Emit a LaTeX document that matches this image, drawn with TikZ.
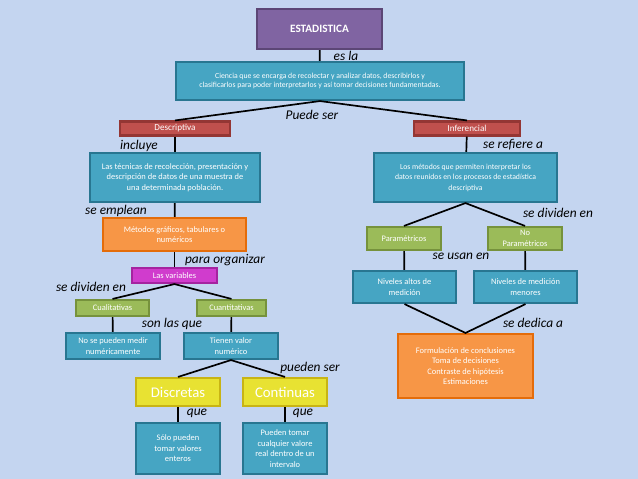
\documentclass[tikz,border=0pt]{standalone}
\usepackage{fontspec}
\setmainfont{Carlito}
\definecolor{fondo}{RGB}{196,213,240}
\definecolor{morado}{RGB}{128,100,162}
\definecolor{moradoosc}{RGB}{92,70,118}
\definecolor{azul}{RGB}{70,165,195}
\definecolor{azulosc}{RGB}{40,118,145}
\definecolor{rojo}{RGB}{192,80,77}
\definecolor{rojoosc}{RGB}{148,54,52}
\definecolor{naranja}{RGB}{247,150,70}
\definecolor{naranjaosc}{RGB}{228,108,10}
\definecolor{rosa}{RGB}{208,60,205}
\definecolor{rosaosc}{RGB}{165,35,160}
\definecolor{verde}{RGB}{155,187,89}
\definecolor{verdeosc}{RGB}{118,146,60}
\definecolor{amarillo}{RGB}{232,226,50}
\definecolor{amarilloosc}{RGB}{200,180,20}
\tikzset{
  caja/.style={draw, line width=1.5pt, text=white, align=center, inner sep=1pt,
    font=\fontsize{6}{7.5}\selectfont},
  cajaazul/.style={caja, fill=azul, draw=azulosc},
  cajaroja/.style={caja, fill=rojo, draw=rojoosc, font=\fontsize{6.5}{7.5}\selectfont},
  cajaverde/.style={caja, fill=verde, draw=verdeosc},
  cajanaranja/.style={caja, fill=naranja, draw=naranjaosc},
  cajaamarilla/.style={caja, fill=amarillo, draw=amarilloosc, font=\fontsize{10.5}{12}\selectfont},
  etiqueta/.style={font=\fontsize{9.5}{11}\selectfont\itshape, inner sep=0pt},
  linea/.style={line width=1.2pt}
}
\begin{document}
\begin{tikzpicture}[x=0.025cm, y=-0.025cm]
	\fill[fondo] (0,0) rectangle (638,479);
	% cajas
	\node[caja, fill=morado, draw=moradoosc, minimum width=3.125cm, minimum height=1cm,
		font=\fontsize{8}{9}\selectfont\bfseries] (est) at (319.5,29) {ESTADISTICA};
	\node[cajaazul, minimum width=7.2cm, minimum height=0.95cm, font=\fontsize{5.5}{7}\selectfont]
		(cien) at (320,81) {Ciencia que se encarga de recolectar y analizar datos, describirlos y\\
		clasificarlos para poder interpretarlos y así tomar decisiones fundamentadas.};
	\node[cajaroja, minimum width=2.75cm, minimum height=0.35cm] (desc) at (175,128.5) {Descriptiva};
	\node[cajaroja, minimum width=2.65cm, minimum height=0.35cm] (infe) at (467,128.5) {Inferencial};
	\node[cajaazul, minimum width=4.25cm, minimum height=1.225cm] (tecn) at (175,177.5)
		{Las técnicas de recolección, presentación y\\ descripción de datos de una muestra de\\
		una determinada población.};
	\node[cajaazul, minimum width=4.575cm, minimum height=1.225cm, font=\fontsize{5.5}{7.5}\selectfont]
		(meto) at (465.5,177.5) {Los métodos que permiten interpretar los\\
		datos reunidos en los procesos de estadística\\ descriptiva};
	\node[cajanaranja, minimum width=3.575cm, minimum height=0.825cm] (graf) at (174.5,234.5)
		{Métodos gráficos, tabulares o\\ numéricos};
	\node[caja, fill=rosa, draw=rosaosc, minimum width=2.125cm, minimum height=0.375cm]
		(vari) at (174.5,275.5) {Las variables};
	\node[cajaverde, minimum width=1.825cm, minimum height=0.4cm] (cual) at (112.5,308) {Cualitativas};
	\node[cajaverde, minimum width=1.725cm, minimum height=0.4cm] (cuan) at (231.5,308) {Cuantitativas};
	\node[cajaazul, minimum width=2.35cm, minimum height=0.65cm] (nose) at (113,346)
		{No se pueden medir\\ numéricamente};
	\node[cajaazul, minimum width=2.35cm, minimum height=0.65cm] (tien) at (231,346)
		{Tienen valor\\ numérico};
	\node[cajaamarilla, minimum width=2.1cm, minimum height=0.7cm] (disc) at (178,392) {Discretas};
	\node[cajaamarilla, minimum width=2.1cm, minimum height=0.7cm] (cont) at (285,392) {Continuas};
	\node[cajaazul, minimum width=2.1cm, minimum height=1.275cm] (solo) at (178,448.5)
		{Sólo pueden\\ tomar valores\\ enteros};
	\node[cajaazul, minimum width=2.1cm, minimum height=1.275cm] (pued) at (285,448.5)
		{Pueden tomar\\ cualquier valore\\ real dentro de un\\ intervalo};
	\node[cajaverde, minimum width=1.85cm, minimum height=0.575cm] (para) at (404,238.5) {Paramétricos};
	\node[cajaverde, minimum width=1.85cm, minimum height=0.575cm] (nopa) at (525,238.5)
		{No\\ Paramétricos};
	\node[cajaazul, minimum width=2.575cm, minimum height=0.8cm] (alto) at (404.5,287)
		{Niveles altos de\\ medición};
	\node[cajaazul, minimum width=2.575cm, minimum height=0.8cm] (meno) at (525.5,287)
		{Niveles de medición\\ menores};
	\node[cajanaranja, minimum width=3.375cm, minimum height=1.6cm] (form) at (465.5,366)
		{Formulación de conclusiones\\ Toma de decisiones\\ Contraste de hipótesis\\ Estimaciones};
	% conectores
	\draw[linea] (est) -- (cien);
	\draw[linea] (desc.north) -- (cien.south) -- (infe.north);
	\draw[linea] (desc) -- (tecn);
	\draw[linea] (infe) -- (meto);
	\draw[linea] (tecn) -- (graf);
	\draw[linea] (graf) -- (vari);
	\draw[linea] (cual.north) -- (vari.south) -- (cuan.north);
	\draw[linea] (cual) -- (nose);
	\draw[linea] (cuan) -- (tien);
	\draw[linea] (disc.north) -- (tien.south) -- (cont.north);
	\draw[linea] (disc) -- (solo);
	\draw[linea] (cont) -- (pued);
	\draw[linea] (para.north) -- (meto.south) -- (nopa.north);
	\draw[linea] (para) -- (alto);
	\draw[linea] (nopa) -- (meno);
	\draw[linea] (alto.south) -- (form.north) -- (meno.south);
	% etiquetas
	\node[etiqueta] (esla) at (346,56) {es la};
	\node[etiqueta] (puede) at (312,115) {Puede ser};
	\node[etiqueta] (incl) at (139,146) {incluye};
	\node[etiqueta] (refi) at (513,145) {se refiere a};
	\node[etiqueta] (empl) at (116,211) {se emplean};
	\node[etiqueta] (orga) at (225,260) {para organizar};
	\node[etiqueta] (divi) at (91,287) {se dividen en};
	\node[etiqueta] (divi2) at (558,213) {se dividen en};
	\node[etiqueta] (usan) at (461,256) {se usan en};
	\node[etiqueta] (sonl) at (172,324) {son las que};
	\node[etiqueta] (dedi) at (533,323) {se dedica a};
	\node[etiqueta] (pser) at (310,368) {pueden ser};
	\node[etiqueta] (que1) at (197,413) {que};
	\node[etiqueta] (que2) at (303,413) {que};
\end{tikzpicture}
\end{document}
